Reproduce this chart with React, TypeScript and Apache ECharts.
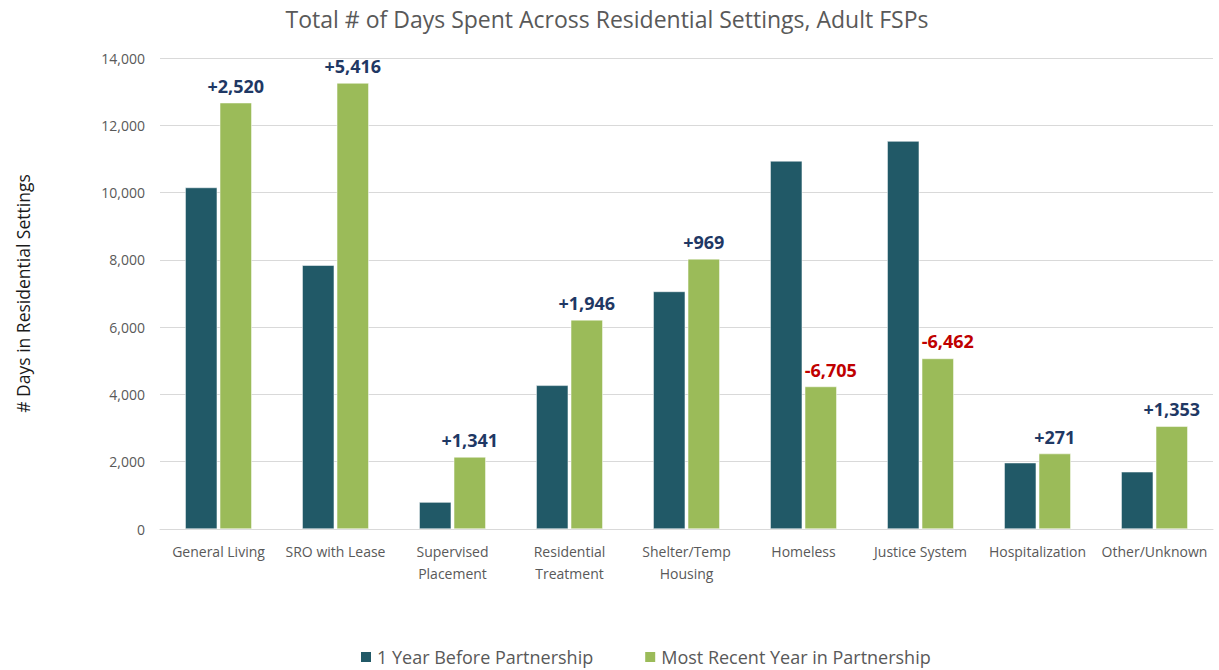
import React, { useEffect, useRef } from "react";
import * as echarts from "echarts";

const categories = [
  "General Living",
  "SRO with Lease",
  "Supervised\nPlacement",
  "Residential\nTreatment",
  "Shelter/Temp\nHousing",
  "Homeless",
  "Justice System",
  "Hospitalization",
  "Other/Unknown",
];
const beforeValues = [10150, 7840, 800, 4270, 7060, 10940, 11530, 1970, 1700];
const recentValues = [12670, 13256, 2141, 6216, 8029, 4235, 5068, 2241, 3053];
const diffLabels = ["+2,520", "+5,416", "+1,341", "+1,946", "+969", "-6,705", "-6,462", "+271", "+1,353"];
const yTicks = [0, 2000, 4000, 6000, 8000, 10000, 12000, 14000];

const FONT = "'Open Sans', 'Noto Sans', sans-serif";

export default function App() {
  const ref = useRef<HTMLDivElement>(null);
  useEffect(() => {
    document.body.style.margin = "0";
    if (!ref.current) return;
    const chart = echarts.init(ref.current, null, { renderer: "svg" });
    chart.setOption({
      animation: false,
      title: {
        text: "Total # of Days Spent Across Residential Settings, Adult FSPs",
        left: 602,
        textAlign: "center",
        top: 2,
        textStyle: { fontFamily: FONT, fontSize: 23, fontWeight: "normal", color: "#595959" },
      },
      legend: {
        top: 643,
        left: 354,
        itemWidth: 12,
        itemHeight: 12,
        itemGap: 50,
        icon: "rect",
        textStyle: { fontFamily: FONT, fontSize: 18, color: "#595959" },
        data: ["1 Year Before Partnership", "Most Recent Year in Partnership"],
      },
      grid: { left: 160, right: 6, top: 58, bottom: 141, containLabel: false },
      xAxis: {
        type: "category",
        data: categories,
        axisTick: { show: false },
        axisLine: { lineStyle: { color: "#d9d9d9", width: 1 } },
        axisLabel: {
          interval: 0,
          fontFamily: FONT,
          fontSize: 14,
          color: "#595959",
          margin: 11,
          lineHeight: 22,
        },
      },
      yAxis: {
        type: "value",
        min: 0,
        max: 14000,
        interval: 2000,
        name: "# Days in Residential Settings",
        nameLocation: "middle",
        nameGap: 128,
        nameTextStyle: { fontFamily: FONT, fontSize: 17.5, color: "#1a1a1a" },
        axisLabel: {
          fontFamily: FONT,
          fontSize: 14,
          color: "#595959",
          margin: 15,
          formatter: (v: number) => (yTicks.includes(v) ? v.toLocaleString("en-US") : ""),
        },
        splitLine: { lineStyle: { color: "#d9d9d9" } },
      },
      series: [
        {
          name: "1 Year Before Partnership",
          type: "bar",
          data: beforeValues,
          barWidth: 32,
          barGap: "8%",
          itemStyle: { color: "#215967", borderColor: "#ffffff", borderWidth: 0.5 },
        },
        {
          name: "Most Recent Year in Partnership",
          type: "bar",
          barWidth: 32,
          itemStyle: { color: "#9bbb59", borderColor: "#ffffff", borderWidth: 0.5 },
          label: {
            show: true,
            position: "top",
            distance: 8,
            fontFamily: FONT,
            fontSize: 18,
            fontWeight: "bold",
            formatter: (p: any) => diffLabels[p.dataIndex],
          },
          data: recentValues.map((v, i) => ({
            value: v,
            label: diffLabels[i].startsWith("-")
              ? { color: "#c00000", offset: [10, 0] }
              : { color: "#1f3864" },
          })),
        },
      ],
    });
    return () => chart.dispose();
  }, []);
  return <div ref={ref} style={{ width: 1219, height: 670 }} />;
}
